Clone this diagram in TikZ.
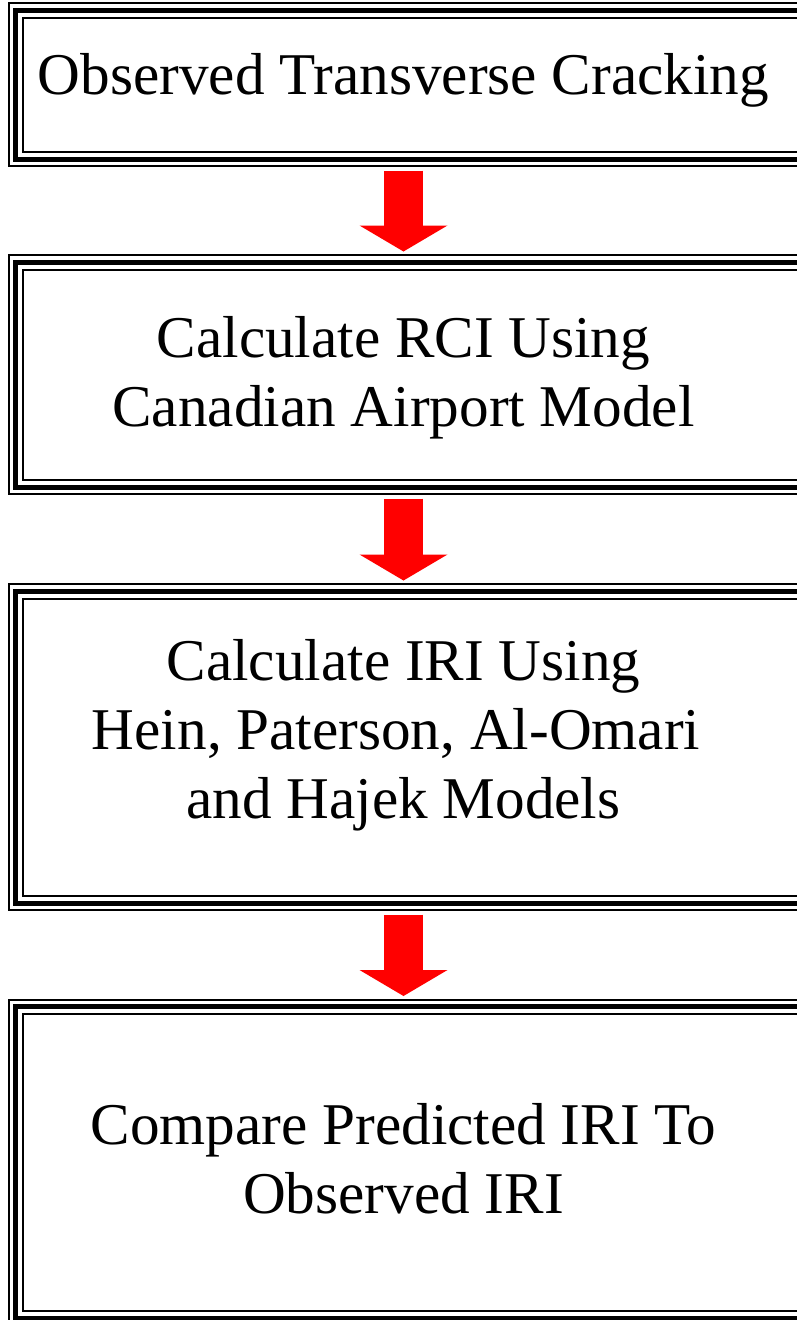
\documentclass[tikz,border=0pt]{standalone}
\usepackage{fontspec}
\setmainfont{Liberation Serif}
\usetikzlibrary{arrows.meta}
\tikzset{
  frame/.style={draw, line width=2pt, minimum width=800pt, inner sep=0pt},
  caption/.style={font=\fontsize{59.2}{69}\selectfont, align=center, inner sep=0pt},
  flow/.style={red, line width=39pt, -{Triangle[width=88pt, length=26pt, line width=0pt]},
    shorten <=18pt, shorten >=17pt}
}
\begin{document}
\begin{tikzpicture}[x=1pt, y=1pt]
  \useasboundingbox (0,0) rectangle (797,-1320);
  \clip (0,0) rectangle (797,-1320);
  \foreach \y/\h [count=\i] in {84.5/134, 374.5/210, 747/297, 1162.5/297} {
    \node[frame, minimum height=\h pt] (\i) at (423,-\y) {};
    \draw[line width=5pt] ([shift={(-6.5pt,6.5pt)}]\i.north west) rectangle ([shift={(6.5pt,-6.5pt)}]\i.south east);
    \draw[line width=2pt] ([shift={(-13.5pt,13.5pt)}]\i.north west) rectangle ([shift={(13.5pt,-13.5pt)}]\i.south east);
  }
  \coordinate (axis) at (403.5,0);
  \node[caption] (t1) at (403.5,-80) {Observed Transverse Cracking};
  \node[caption] (t2) at (403.5,-377.5) {Calculate RCI Using\\Canadian Airport Model};
  \node[caption] (t3) at (403.5,-735.5) {Calculate IRI Using\\Hein, Paterson, Al-Omari\hspace{.25em}\null\\and Hajek Models};
  \node[caption] (t4) at (403.5,-1158.5) {Compare Predicted IRI To\\Observed IRI};
  \foreach \i/\j in {1/2, 2/3, 3/4}
    \draw[flow] (axis |- \i.south) -- (axis |- \j.north);
\end{tikzpicture}
\end{document}
